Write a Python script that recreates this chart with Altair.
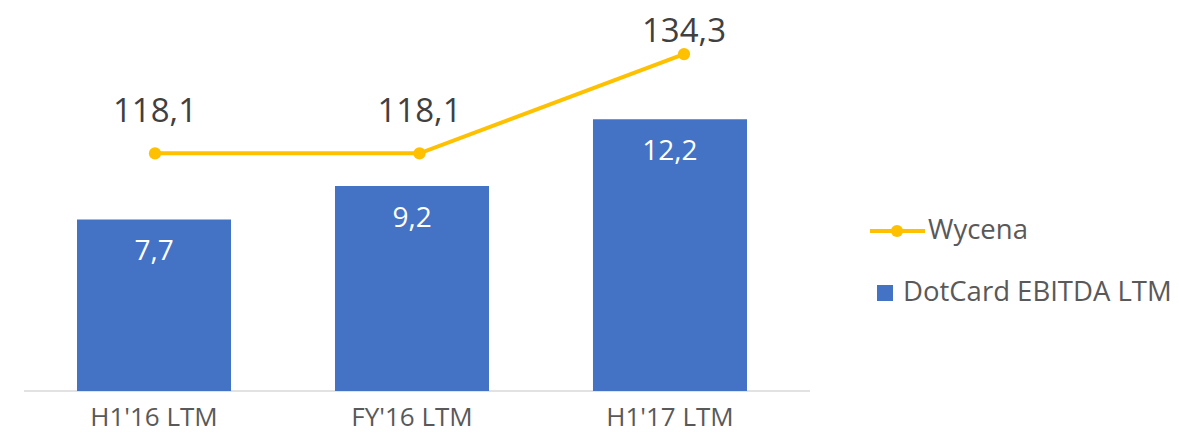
import altair as alt
import pandas as pd

categories = ["H1'16 LTM", "FY'16 LTM", "H1'17 LTM"]
ebitda = [7.7, 9.2, 12.2]
wycena = [118.1, 118.1, 134.3]
ebitda_labels = ["7,7", "9,2", "12,2"]
wycena_labels = ["118,1", "118,1", "134,3"]

df = pd.DataFrame({
    "cat": categories,
    "ebitda": ebitda,
    "wycena": wycena,
    "elab": ebitda_labels,
    "wlab": wycena_labels,
})

FONT = "Open Sans"
BLUE = "#4472C4"
GOLD = "#FFC000"
W, H = 786, 381

xb = alt.X("cat:N", sort=categories, title=None,
           scale=alt.Scale(paddingInner=0.403, paddingOuter=0, range=[53, 723]),
           axis=alt.Axis(labelAngle=0, ticks=False, domain=False, labelPadding=13,
                         labelFontSize=26, labelColor="#595959", labelFont=FONT))
xl = alt.X("cat:N", sort=categories, title=None,
           scale=alt.Scale(type="point", padding=0, range=[131, 660]), axis=None)

ybar = alt.Y("ebitda:Q", scale=alt.Scale(domain=[0, 17.1], nice=False, zero=True), axis=None)
yline = alt.Y("wycena:Q", scale=alt.Scale(domain=[79.3, 141.5], nice=False, zero=False), axis=None)

base = alt.Chart(df)

bars = base.mark_bar(color=BLUE).encode(x=xb, y=ybar)
bar_text = base.mark_text(color="white", font=FONT, fontSize=28, dy=33, baseline="middle").encode(
    x=xb, y=ybar, text="elab:N")
bars_layer = alt.layer(bars, bar_text)

line = base.mark_line(color=GOLD, strokeWidth=4).encode(x=xl, y=yline)
pts = base.mark_point(color=GOLD, filled=True, size=150, opacity=1).encode(x=xl, y=yline)
lt1 = base.transform_filter(alt.datum.cat != "H1'17 LTM").mark_text(
    color="#404040", font=FONT, fontSize=33, dy=-41, baseline="middle").encode(x=xl, y=yline, text="wlab:N")
lt2 = base.transform_filter(alt.datum.cat == "H1'17 LTM").mark_text(
    color="#404040", font=FONT, fontSize=33, dy=-22, baseline="middle").encode(x=xl, y=yline, text="wlab:N")
line_layer = alt.layer(line, pts, lt1, lt2)

one = alt.Chart(pd.DataFrame({"k": [0]}))
axis_line = one.mark_rule(color="#D9D9D9", strokeWidth=1.5).encode(
    x=alt.value(0), x2=alt.value(W), y=alt.value(H))
leg_line = one.mark_rule(color=GOLD, strokeWidth=4).encode(
    x=alt.value(846), x2=alt.value(901), y=alt.value(221))
leg_pt = one.mark_point(color=GOLD, filled=True, size=150, opacity=1).encode(
    x=alt.value(873), y=alt.value(221))
leg_t1 = one.mark_text(text="Wycena", align="left", baseline="middle", font=FONT,
                       fontSize=27.5, color="#595959").encode(x=alt.value(904), y=alt.value(221))
leg_sq = one.mark_point(shape="square", color=BLUE, filled=True, size=256, opacity=1).encode(
    x=alt.value(861), y=alt.value(283))
leg_t2 = one.mark_text(text="DotCard EBITDA LTM", align="left", baseline="middle", font=FONT,
                       fontSize=27.5, color="#595959").encode(x=alt.value(879), y=alt.value(283))

chart = alt.layer(axis_line, bars_layer, line_layer, leg_line, leg_pt, leg_t1, leg_sq, leg_t2).resolve_scale(
    x="independent", y="independent"
).properties(
    width=W, height=H,
    background="white",
    autosize=alt.AutoSizeParams(type="none"),
    padding={"left": 16, "top": 2, "right": 361, "bottom": 40},
).configure_view(stroke=None)

chart.save("out.html", embed_options={"renderer": "svg", "actions": False})
